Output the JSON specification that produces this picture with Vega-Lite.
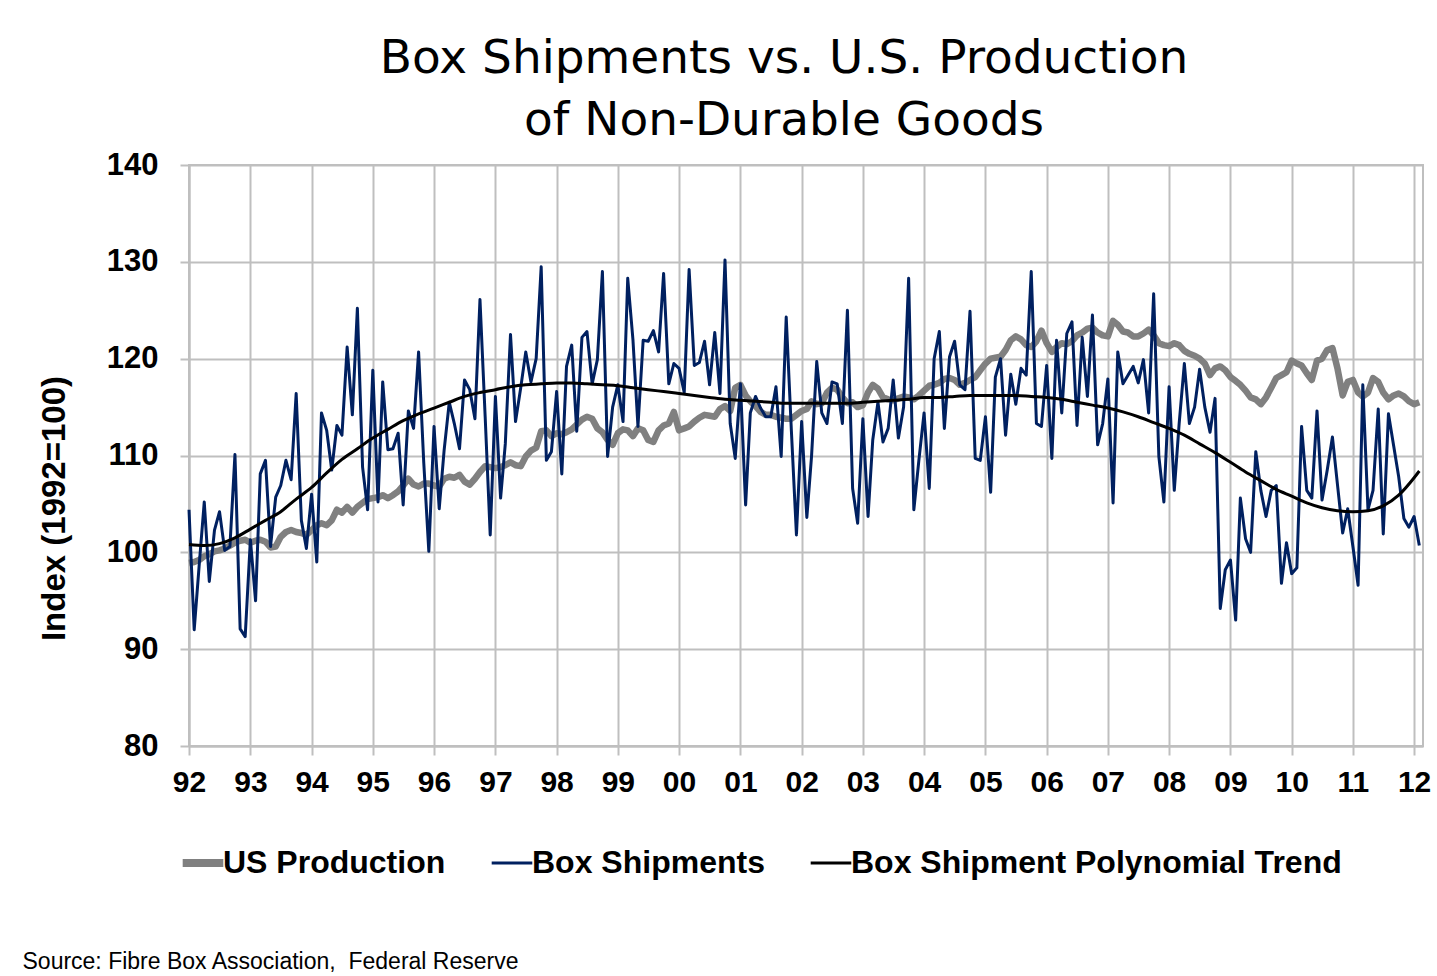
{
  "$schema": "https://vega.github.io/schema/vega-lite/v6.json",
  "width": 1234,
  "height": 581,
  "autosize": "none",
  "padding": {"left": 189, "top": 165, "right": 14, "bottom": 230},
  "background": "white",
  "config": {
    "view": {"stroke": "#bfbfbf", "strokeWidth": 2},
    "font": "Liberation Sans"
  },
  "title": {
    "text": ["Box Shipments vs. U.S. Production", "of Non-Durable Goods"],
    "font": "DejaVu Sans",
    "fontSize": 47,
    "fontWeight": "normal",
    "lineHeight": 62,
    "anchor": "middle",
    "dx": -22,
    "offset": 4,
    "color": "black"
  },
  "datasets": {
    "m": [
      {"d":"1992-01-01","box":104.4,"us":98.9},{"d":"1992-02-01","box":92.0,"us":99.0},{"d":"1992-03-01","box":98.5,"us":99.2},{"d":"1992-04-01","box":105.2,"us":99.6},{"d":"1992-05-01","box":97.0,"us":99.8},{"d":"1992-06-01","box":102.3,"us":100.1},{"d":"1992-07-01","box":104.2,"us":100.2},{"d":"1992-08-01","box":100.2,"us":100.4},{"d":"1992-09-01","box":100.6,"us":100.7},{"d":"1992-10-01","box":110.1,"us":101.0},{"d":"1992-11-01","box":92.1,"us":101.2},{"d":"1992-12-01","box":91.3,"us":101.3},
      {"d":"1993-01-01","box":101.3,"us":101.0},{"d":"1993-02-01","box":95.0,"us":101.2},{"d":"1993-03-01","box":108.1,"us":101.3},{"d":"1993-04-01","box":109.5,"us":101.1},{"d":"1993-05-01","box":100.6,"us":100.5},{"d":"1993-06-01","box":105.7,"us":100.6},{"d":"1993-07-01","box":106.9,"us":101.6},{"d":"1993-08-01","box":109.5,"us":102.1},{"d":"1993-09-01","box":107.5,"us":102.3},{"d":"1993-10-01","box":116.4,"us":102.1},{"d":"1993-11-01","box":103.3,"us":102.0},{"d":"1993-12-01","box":100.4,"us":101.8},
      {"d":"1994-01-01","box":106.0,"us":102.3},{"d":"1994-02-01","box":99.0,"us":102.8},{"d":"1994-03-01","box":114.4,"us":103.0},{"d":"1994-04-01","box":112.6,"us":102.8},{"d":"1994-05-01","box":108.5,"us":103.3},{"d":"1994-06-01","box":113.1,"us":104.4},{"d":"1994-07-01","box":112.1,"us":104.1},{"d":"1994-08-01","box":121.2,"us":104.7},{"d":"1994-09-01","box":114.2,"us":104.1},{"d":"1994-10-01","box":125.2,"us":104.7},{"d":"1994-11-01","box":108.8,"us":105.1},{"d":"1994-12-01","box":104.4,"us":105.5},
      {"d":"1995-01-01","box":118.8,"us":105.6},{"d":"1995-02-01","box":105.2,"us":105.7},{"d":"1995-03-01","box":117.6,"us":105.9},{"d":"1995-04-01","box":110.6,"us":105.6},{"d":"1995-05-01","box":110.7,"us":105.9},{"d":"1995-06-01","box":112.3,"us":106.3},{"d":"1995-07-01","box":104.9,"us":106.9},{"d":"1995-08-01","box":114.6,"us":107.6},{"d":"1995-09-01","box":112.8,"us":107.0},{"d":"1995-10-01","box":120.7,"us":106.8},{"d":"1995-11-01","box":109.2,"us":107.1},{"d":"1995-12-01","box":100.1,"us":107.1},
      {"d":"1996-01-01","box":113.0,"us":106.9},{"d":"1996-02-01","box":104.5,"us":106.8},{"d":"1996-03-01","box":110.5,"us":107.6},{"d":"1996-04-01","box":115.5,"us":107.8},{"d":"1996-05-01","box":113.3,"us":107.7},{"d":"1996-06-01","box":110.7,"us":108.0},{"d":"1996-07-01","box":117.8,"us":107.3},{"d":"1996-08-01","box":116.8,"us":107.0},{"d":"1996-09-01","box":113.8,"us":107.6},{"d":"1996-10-01","box":126.1,"us":108.3},{"d":"1996-11-01","box":114.0,"us":108.9},{"d":"1996-12-01","box":101.8,"us":108.8},
      {"d":"1997-01-01","box":116.1,"us":108.7},{"d":"1997-02-01","box":105.6,"us":108.8},{"d":"1997-03-01","box":111.2,"us":109.0},{"d":"1997-04-01","box":122.5,"us":109.3},{"d":"1997-05-01","box":113.5,"us":109.0},{"d":"1997-06-01","box":117.0,"us":108.9},{"d":"1997-07-01","box":120.7,"us":109.9},{"d":"1997-08-01","box":117.6,"us":110.5},{"d":"1997-09-01","box":120.0,"us":110.8},{"d":"1997-10-01","box":129.5,"us":112.5},{"d":"1997-11-01","box":109.5,"us":112.6},{"d":"1997-12-01","box":110.4,"us":112.0},
      {"d":"1998-01-01","box":116.6,"us":112.3},{"d":"1998-02-01","box":108.1,"us":112.2},{"d":"1998-03-01","box":119.2,"us":112.4},{"d":"1998-04-01","box":121.4,"us":112.7},{"d":"1998-05-01","box":112.5,"us":113.2},{"d":"1998-06-01","box":122.2,"us":113.7},{"d":"1998-07-01","box":122.8,"us":114.0},{"d":"1998-08-01","box":117.4,"us":113.8},{"d":"1998-09-01","box":119.9,"us":112.8},{"d":"1998-10-01","box":129.0,"us":112.4},{"d":"1998-11-01","box":109.9,"us":111.6},{"d":"1998-12-01","box":115.0,"us":111.1},
      {"d":"1999-01-01","box":117.3,"us":112.3},{"d":"1999-02-01","box":113.5,"us":112.7},{"d":"1999-03-01","box":128.3,"us":112.6},{"d":"1999-04-01","box":122.0,"us":112.0},{"d":"1999-05-01","box":113.0,"us":112.8},{"d":"1999-06-01","box":121.9,"us":112.6},{"d":"1999-07-01","box":121.8,"us":111.6},{"d":"1999-08-01","box":122.9,"us":111.4},{"d":"1999-09-01","box":120.7,"us":112.6},{"d":"1999-10-01","box":128.8,"us":113.1},{"d":"1999-11-01","box":117.4,"us":113.3},{"d":"1999-12-01","box":119.5,"us":114.5},
      {"d":"2000-01-01","box":119.0,"us":112.6},{"d":"2000-02-01","box":116.5,"us":112.8},{"d":"2000-03-01","box":129.2,"us":113.0},{"d":"2000-04-01","box":119.3,"us":113.5},{"d":"2000-05-01","box":119.6,"us":113.9},{"d":"2000-06-01","box":121.8,"us":114.2},{"d":"2000-07-01","box":117.3,"us":114.1},{"d":"2000-08-01","box":122.7,"us":114.0},{"d":"2000-09-01","box":116.4,"us":114.8},{"d":"2000-10-01","box":130.2,"us":115.1},{"d":"2000-11-01","box":113.3,"us":114.6},{"d":"2000-12-01","box":109.7,"us":117.0},
      {"d":"2001-01-01","box":117.4,"us":117.3},{"d":"2001-02-01","box":104.9,"us":116.2},{"d":"2001-03-01","box":114.4,"us":115.6},{"d":"2001-04-01","box":116.1,"us":115.1},{"d":"2001-05-01","box":114.9,"us":114.5},{"d":"2001-06-01","box":114.0,"us":114.2},{"d":"2001-07-01","box":114.0,"us":114.2},{"d":"2001-08-01","box":117.1,"us":114.0},{"d":"2001-09-01","box":109.9,"us":113.9},{"d":"2001-10-01","box":124.3,"us":113.8},{"d":"2001-11-01","box":112.5,"us":113.8},{"d":"2001-12-01","box":101.8,"us":114.2},
      {"d":"2002-01-01","box":113.5,"us":114.6},{"d":"2002-02-01","box":103.6,"us":114.8},{"d":"2002-03-01","box":109.9,"us":115.6},{"d":"2002-04-01","box":119.7,"us":115.3},{"d":"2002-05-01","box":114.4,"us":115.4},{"d":"2002-06-01","box":113.3,"us":116.5},{"d":"2002-07-01","box":117.6,"us":117.0},{"d":"2002-08-01","box":117.4,"us":116.8},{"d":"2002-09-01","box":113.3,"us":116.0},{"d":"2002-10-01","box":125.0,"us":115.4},{"d":"2002-11-01","box":106.6,"us":115.5},{"d":"2002-12-01","box":103.0,"us":115.0},
      {"d":"2003-01-01","box":113.8,"us":115.2},{"d":"2003-02-01","box":103.7,"us":116.5},{"d":"2003-03-01","box":111.6,"us":117.3},{"d":"2003-04-01","box":115.5,"us":116.9},{"d":"2003-05-01","box":111.4,"us":116.0},{"d":"2003-06-01","box":112.8,"us":115.8},{"d":"2003-07-01","box":117.8,"us":115.7},{"d":"2003-08-01","box":111.8,"us":115.9},{"d":"2003-09-01","box":115.0,"us":116.1},{"d":"2003-10-01","box":128.3,"us":116.0},{"d":"2003-11-01","box":104.4,"us":115.8},{"d":"2003-12-01","box":109.5,"us":116.2},
      {"d":"2004-01-01","box":114.4,"us":116.7},{"d":"2004-02-01","box":106.6,"us":117.2},{"d":"2004-03-01","box":120.0,"us":117.3},{"d":"2004-04-01","box":122.8,"us":117.5},{"d":"2004-05-01","box":112.8,"us":117.9},{"d":"2004-06-01","box":120.2,"us":118.0},{"d":"2004-07-01","box":121.8,"us":117.8},{"d":"2004-08-01","box":117.3,"us":117.3},{"d":"2004-09-01","box":116.8,"us":117.5},{"d":"2004-10-01","box":124.9,"us":117.8},{"d":"2004-11-01","box":109.7,"us":118.1},{"d":"2004-12-01","box":109.5,"us":118.8},
      {"d":"2005-01-01","box":114.0,"us":119.5},{"d":"2005-02-01","box":106.2,"us":120.0},{"d":"2005-03-01","box":118.1,"us":120.1},{"d":"2005-04-01","box":120.0,"us":120.2},{"d":"2005-05-01","box":112.1,"us":120.9},{"d":"2005-06-01","box":118.4,"us":121.9},{"d":"2005-07-01","box":115.3,"us":122.3},{"d":"2005-08-01","box":119.0,"us":122.0},{"d":"2005-09-01","box":118.3,"us":121.4},{"d":"2005-10-01","box":129.0,"us":121.2},{"d":"2005-11-01","box":113.3,"us":121.8},{"d":"2005-12-01","box":113.0,"us":122.9},
      {"d":"2006-01-01","box":119.3,"us":121.6},{"d":"2006-02-01","box":109.7,"us":120.7},{"d":"2006-03-01","box":121.9,"us":121.2},{"d":"2006-04-01","box":114.4,"us":121.6},{"d":"2006-05-01","box":122.6,"us":121.5},{"d":"2006-06-01","box":123.8,"us":121.8},{"d":"2006-07-01","box":113.1,"us":122.4},{"d":"2006-08-01","box":122.2,"us":122.7},{"d":"2006-09-01","box":116.1,"us":123.1},{"d":"2006-10-01","box":124.5,"us":123.2},{"d":"2006-11-01","box":111.1,"us":122.7},{"d":"2006-12-01","box":113.3,"us":122.4},
      {"d":"2007-01-01","box":117.9,"us":122.3},{"d":"2007-02-01","box":105.1,"us":123.9},{"d":"2007-03-01","box":120.7,"us":123.5},{"d":"2007-04-01","box":117.4,"us":122.8},{"d":"2007-05-01","box":118.3,"us":122.7},{"d":"2007-06-01","box":119.2,"us":122.3},{"d":"2007-07-01","box":117.5,"us":122.3},{"d":"2007-08-01","box":119.9,"us":122.6},{"d":"2007-09-01","box":114.4,"us":123.0},{"d":"2007-10-01","box":126.7,"us":122.4},{"d":"2007-11-01","box":109.9,"us":121.6},{"d":"2007-12-01","box":105.2,"us":121.4},
      {"d":"2008-01-01","box":117.1,"us":121.3},{"d":"2008-02-01","box":106.4,"us":121.6},{"d":"2008-03-01","box":113.3,"us":121.4},{"d":"2008-04-01","box":119.5,"us":120.8},{"d":"2008-05-01","box":113.3,"us":120.5},{"d":"2008-06-01","box":115.0,"us":120.3},{"d":"2008-07-01","box":118.9,"us":120.0},{"d":"2008-08-01","box":115.0,"us":119.5},{"d":"2008-09-01","box":112.4,"us":118.3},{"d":"2008-10-01","box":115.9,"us":119.0},{"d":"2008-11-01","box":94.2,"us":119.2},{"d":"2008-12-01","box":98.2,"us":118.8},
      {"d":"2009-01-01","box":99.2,"us":118.1},{"d":"2009-02-01","box":93.0,"us":117.7},{"d":"2009-03-01","box":105.6,"us":117.3},{"d":"2009-04-01","box":101.4,"us":116.7},{"d":"2009-05-01","box":100.0,"us":116.0},{"d":"2009-06-01","box":110.4,"us":115.8},{"d":"2009-07-01","box":106.4,"us":115.3},{"d":"2009-08-01","box":103.7,"us":116.0},{"d":"2009-09-01","box":106.4,"us":117.0},{"d":"2009-10-01","box":106.9,"us":118.0},{"d":"2009-11-01","box":96.8,"us":118.3},{"d":"2009-12-01","box":101.0,"us":118.6},
      {"d":"2010-01-01","box":97.8,"us":119.8},{"d":"2010-02-01","box":98.4,"us":119.5},{"d":"2010-03-01","box":113.0,"us":119.3},{"d":"2010-04-01","box":106.4,"us":118.5},{"d":"2010-05-01","box":105.6,"us":117.8},{"d":"2010-06-01","box":114.6,"us":119.8},{"d":"2010-07-01","box":105.4,"us":120.0},{"d":"2010-08-01","box":108.5,"us":120.9},{"d":"2010-09-01","box":111.9,"us":121.1},{"d":"2010-10-01","box":107.0,"us":119.0},{"d":"2010-11-01","box":102.0,"us":116.2},{"d":"2010-12-01","box":104.5,"us":117.6},
      {"d":"2011-01-01","box":100.6,"us":117.8},{"d":"2011-02-01","box":96.6,"us":116.5},{"d":"2011-03-01","box":117.3,"us":116.1},{"d":"2011-04-01","box":104.4,"us":116.5},{"d":"2011-05-01","box":106.4,"us":118.0},{"d":"2011-06-01","box":114.8,"us":117.6},{"d":"2011-07-01","box":101.9,"us":116.5},{"d":"2011-08-01","box":114.3,"us":115.8},{"d":"2011-09-01","box":111.0,"us":116.2},{"d":"2011-10-01","box":107.8,"us":116.4},{"d":"2011-11-01","box":103.5,"us":116.1},{"d":"2011-12-01","box":102.6,"us":115.6},
      {"d":"2012-01-01","box":103.7,"us":115.3},{"d":"2012-02-01","box":100.7,"us":115.5}
    ],
    "t": [
      {"d":"1992-01-01","t":100.8},{"d":"1992-04-01","t":100.7},{"d":"1992-07-01","t":100.9},{"d":"1992-10-01","t":101.5},
      {"d":"1993-01-01","t":102.4},{"d":"1993-04-01","t":103.3},{"d":"1993-07-01","t":104.2},{"d":"1993-10-01","t":105.5},
      {"d":"1994-01-01","t":106.7},{"d":"1994-04-01","t":108.2},{"d":"1994-07-01","t":109.6},{"d":"1994-10-01","t":110.7},
      {"d":"1995-01-01","t":111.8},{"d":"1995-04-01","t":112.7},{"d":"1995-07-01","t":113.6},{"d":"1995-10-01","t":114.3},
      {"d":"1996-01-01","t":114.9},{"d":"1996-04-01","t":115.5},{"d":"1996-07-01","t":116.1},{"d":"1996-10-01","t":116.5},
      {"d":"1997-01-01","t":116.8},{"d":"1997-04-01","t":117.1},{"d":"1997-07-01","t":117.3},{"d":"1997-10-01","t":117.4},
      {"d":"1998-01-01","t":117.5},{"d":"1998-04-01","t":117.5},{"d":"1998-07-01","t":117.4},{"d":"1998-10-01","t":117.3},
      {"d":"1999-01-01","t":117.2},{"d":"1999-04-01","t":117.0},{"d":"1999-07-01","t":116.8},{"d":"1999-10-01","t":116.6},
      {"d":"2000-01-01","t":116.4},{"d":"2000-04-01","t":116.2},{"d":"2000-07-01","t":116.0},{"d":"2000-10-01","t":115.8},
      {"d":"2001-01-01","t":115.7},{"d":"2001-04-01","t":115.6},{"d":"2001-07-01","t":115.5},{"d":"2001-10-01","t":115.4},
      {"d":"2002-01-01","t":115.4},{"d":"2002-04-01","t":115.4},{"d":"2002-07-01","t":115.4},{"d":"2002-10-01","t":115.4},
      {"d":"2003-01-01","t":115.5},{"d":"2003-04-01","t":115.6},{"d":"2003-07-01","t":115.7},{"d":"2003-10-01","t":115.8},
      {"d":"2004-01-01","t":116.0},{"d":"2004-04-01","t":116.0},{"d":"2004-07-01","t":116.1},{"d":"2004-10-01","t":116.2},
      {"d":"2005-01-01","t":116.2},{"d":"2005-04-01","t":116.2},{"d":"2005-07-01","t":116.2},{"d":"2005-10-01","t":116.1},
      {"d":"2006-01-01","t":116.0},{"d":"2006-04-01","t":115.8},{"d":"2006-07-01","t":115.5},{"d":"2006-10-01","t":115.2},
      {"d":"2007-01-01","t":114.9},{"d":"2007-04-01","t":114.5},{"d":"2007-07-01","t":114.0},{"d":"2007-10-01","t":113.4},
      {"d":"2008-01-01","t":112.8},{"d":"2008-04-01","t":112.1},{"d":"2008-07-01","t":111.2},{"d":"2008-10-01","t":110.3},
      {"d":"2009-01-01","t":109.3},{"d":"2009-04-01","t":108.3},{"d":"2009-07-01","t":107.4},{"d":"2009-10-01","t":106.5},
      {"d":"2010-01-01","t":105.8},{"d":"2010-04-01","t":105.1},{"d":"2010-07-01","t":104.6},{"d":"2010-10-01","t":104.3},
      {"d":"2011-01-01","t":104.2},{"d":"2011-04-01","t":104.3},{"d":"2011-07-01","t":104.8},{"d":"2011-10-01","t":105.9},
      {"d":"2012-01-01","t":107.7},{"d":"2012-02-01","t":108.4}
    ]
  },
  "encoding": {
    "x": {
      "field": "d",
      "type": "temporal",
      "scale": {
        "type": "utc",
        "domain": [{"year": 1992, "month": 1, "date": 1, "utc": true}, {"year": 2012, "month": 2, "date": 23, "utc": true}]
      },
      "axis": {
        "tickCount": {"interval": "year", "step": 1},
        "labelExpr": "utcFormat(datum.value, '%y')",
        "labelFlush": false,
        "labelOverlap": false,
        "labelFont": "Liberation Sans",
        "labelFontSize": 30,
        "labelFontWeight": "bold",
        "labelColor": "black",
        "labelPadding": 12,
        "grid": true,
        "gridColor": "#bfbfbf",
        "gridWidth": 2,
        "tickColor": "#bfbfbf",
        "tickWidth": 2,
        "tickSize": 9,
        "domainColor": "#bfbfbf",
        "domainWidth": 2,
        "title": "Source: Fibre Box Association,\u00a0 Federal Reserve",
        "titleFont": "Liberation Sans",
        "titleFontSize": 23,
        "titleFontWeight": "normal",
        "titleColor": "black",
        "titleAlign": "left",
        "titleBaseline": "alphabetic",
        "titleX": -167,
        "titleY": 222
      }
    }
  },
  "layer": [
    {
      "data": {"name": "m"},
      "mark": {"type": "line", "strokeWidth": 6.5, "strokeJoin": "round"},
      "encoding": {
        "y": {
          "field": "us",
          "type": "quantitative",
          "scale": {"domain": [80, 140], "nice": false, "zero": false},
          "axis": {
            "values": [80, 90, 100, 110, 120, 130, 140],
            "labelFont": "Liberation Sans",
            "labelFontSize": 31,
            "labelFontWeight": "bold",
            "labelColor": "black",
            "labelPadding": 22,
            "grid": true,
            "gridColor": "#bfbfbf",
            "gridWidth": 2,
            "tickColor": "#bfbfbf",
            "tickWidth": 2,
            "tickSize": 9,
            "domainColor": "#bfbfbf",
            "domainWidth": 2,
            "title": "Index (1992=100)",
            "titleFont": "Liberation Sans",
            "titleFontSize": 33,
            "titleFontWeight": "bold",
            "titleColor": "black",
            "titleAngle": -90,
            "titleAlign": "center",
            "titleBaseline": "middle",
            "titleX": -135,
            "titleY": 343
          }
        },
        "color": {
          "datum": "US Production",
          "scale": {
            "domain": ["US Production", "Box Shipments", "Box Shipment Polynomial Trend"],
            "range": ["#808080", "#002060", "#000000"]
          },
          "legend": {
            "title": null,
            "orient": "none",
            "legendX": -2,
            "legendY": 682,
            "direction": "horizontal",
            "symbolType": "stroke",
            "symbolSize": 1650,
            "symbolStrokeWidth": 3,
            "labelFont": "Liberation Sans",
            "labelFontSize": 32,
            "labelFontWeight": "bold",
            "labelColor": "black",
            "labelOffset": 4,
            "labelLimit": 800,
            "columnPadding": 39,
            "encode": {
              "symbols": {"update": {"strokeWidth": {"signal": "datum.value === 'US Production' ? 8 : 3"}}}
            }
          }
        }
      }
    },
    {
      "data": {"name": "m"},
      "mark": {"type": "line", "strokeWidth": 3, "strokeJoin": "round"},
      "encoding": {
        "y": {"field": "box", "type": "quantitative"},
        "color": {"datum": "Box Shipments"}
      }
    },
    {
      "data": {"name": "t"},
      "mark": {"type": "line", "strokeWidth": 3, "interpolate": "monotone"},
      "encoding": {
        "y": {"field": "t", "type": "quantitative"},
        "color": {"datum": "Box Shipment Polynomial Trend"}
      }
    }
  ]
}
